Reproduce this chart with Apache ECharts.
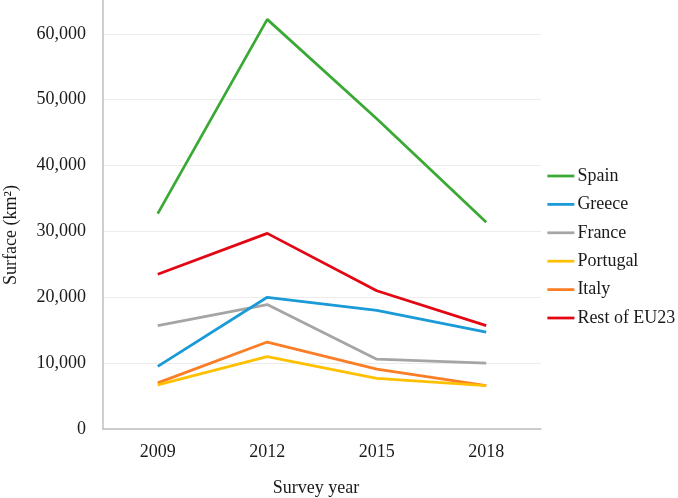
<!DOCTYPE html>
<html>
<head>
<meta charset="utf-8">
<script src="https://cdn.jsdelivr.net/npm/echarts@6/dist/echarts.min.js"></script>
<style>
html,body{margin:0;padding:0;background:#fff;}
#c{width:678px;height:498px;}
</style>
</head>
<body>
<div id="c"></div>
<script>
var years = ['2009', '2012', '2015', '2018'];
var seriesNames = ['Spain', 'Greece', 'France', 'Portugal', 'Italy', 'Rest of EU23'];
var spain = [32700, 62200, 47100, 31400];
var greece = [9500, 20000, 18000, 14700];
var france = [15700, 18900, 10600, 10000];
var portugal = [6700, 11000, 7700, 6600];
var italy = [7000, 13200, 9100, 6600];
var restEU23 = [23500, 29700, 21000, 15700];
var colors = ['#3aa935', '#1a9ad6', '#a5a5a5', '#ffc000', '#fb7d25', '#e30613'];

var dataList = [spain, greece, france, portugal, italy, restEU23];
var font = 'Liberation Serif, Times New Roman, serif';

var chart = echarts.init(document.getElementById('c'), null, {renderer: 'canvas'});
chart.setOption({
  animation: false,
  backgroundColor: '#ffffff',
  textStyle: {fontFamily: font},
  grid: {left: 103, right: 137, top: -32, bottom: 69, containLabel: false, outerBoundsMode: 'none'},
  legend: {
    orient: 'vertical',
    left: 541,
    top: 162,
    itemWidth: 27,
    itemHeight: 14,
    itemGap: 10.4,
    itemStyle: {opacity: 0},
    lineStyle: {width: 2.75},
    textStyle: {fontFamily: font, fontSize: 18, color: '#1a1a1a', padding: [0, 0, 0, -2]},
    data: seriesNames
  },
  xAxis: {
    type: 'category',
    data: years,
    boundaryGap: true,
    name: 'Survey year',
    nameLocation: 'middle',
    nameGap: 50,
    nameTextStyle: {fontFamily: font, fontSize: 18, color: '#1a1a1a', padding: [0, 12, 0, 0]},
    axisLine: {lineStyle: {color: '#bfbfbf', width: 1.5}},
    axisTick: {show: false},
    axisLabel: {fontFamily: font, fontSize: 18, color: '#1a1a1a', margin: 14}
  },
  yAxis: {
    type: 'value',
    min: 0,
    max: 70000,
    interval: 10000,
    axisLine: {show: true, lineStyle: {color: '#bfbfbf', width: 1.5}},
    axisTick: {show: false},
    splitLine: {lineStyle: {color: '#ececec', width: 1}},
    axisLabel: {
      fontFamily: font, fontSize: 18, color: '#1a1a1a', margin: 17,
      formatter: function (v) { return v.toLocaleString('en-US'); }
    }
  },
  graphic: [{
    type: 'text',
    x: 11,
    y: 235,
    rotation: Math.PI / 2,
    style: {
      text: 'Surface (km²)',
      fontFamily: font,
      fontSize: 18,
      fill: '#1a1a1a',
      textAlign: 'center',
      textVerticalAlign: 'middle'
    }
  }],
  series: seriesNames.map(function (n, i) {
    return {
      name: n,
      type: 'line',
      data: dataList[i],
      symbol: 'none',
      color: colors[i],
      lineStyle: {width: 2.75, color: colors[i]},
      z: 10 - i
    };
  })
});
</script>
</body>
</html>
